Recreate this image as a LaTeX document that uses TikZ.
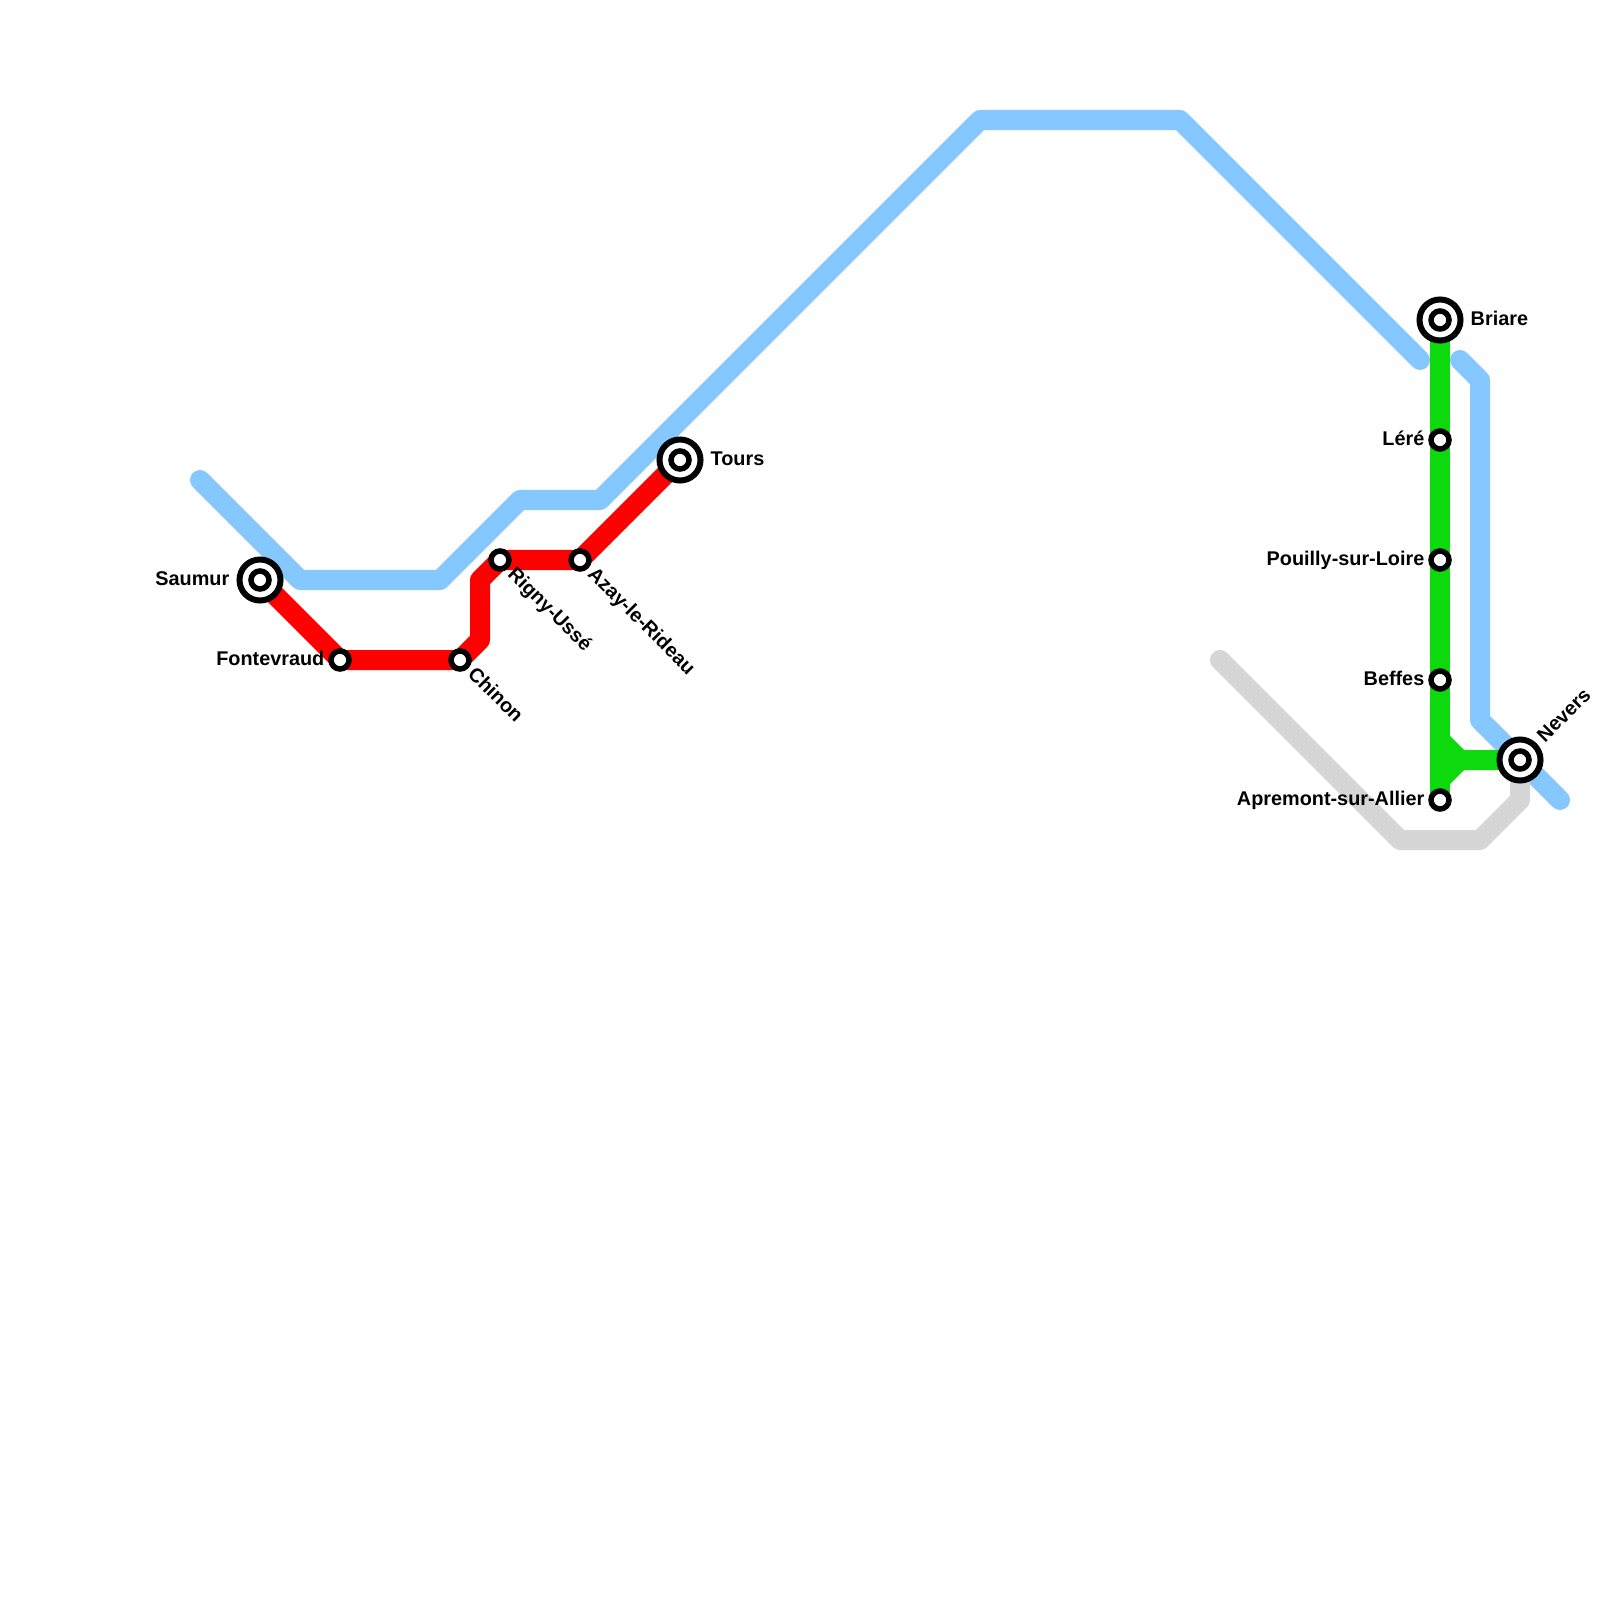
\documentclass[tikz,border=0pt]{standalone}
\usepackage{fontspec}
\setmainfont{Liberation Sans}
\usetikzlibrary{backgrounds}

\begin{document}
\begin{tikzpicture}[x=0.01cm, y=-0.01cm,
    track/.style={line width=0.2cm, line cap=round, line join=round},
    bluetrack/.style={track, draw={rgb,255:red,133;green,199;blue,255}},
    redtrack/.style={track, draw={rgb,255:red,255;green,0;blue,0}},
    greentrack/.style={track, draw={rgb,255:red,12;green,218;blue,12}},
    greytrack/.style={track, draw={rgb,255:red,214;green,214;blue,214}},
    stop/.style={circle, draw=black, fill=white, line width=0.055cm, inner sep=0pt, minimum size=0.18cm},
    hub/.style={circle, draw=black, fill=white, line width=0.06cm, inner sep=0pt, minimum size=0.41cm},
    stoplabel/.style={font=\fontsize{5.64pt}{6.5pt}\selectfont\bfseries, inner sep=0pt, text=black}
]
\useasboundingbox (0,0) rectangle (1600,1600);

% Stations on the red line
\node[hub] (saumur) at (260,580) {};
\node[stop] (saumurin) at (saumur) {};
\node[stop] (fontevraud) at (340,660) {};
\node[stop] (chinon) at (460,660) {};
\node[stop] (rigny) at (500,560) {};
\node[stop] (azay) at (580,560) {};
\node[hub] (tours) at (680,460) {};
\node[stop] (toursin) at (tours) {};

% Stations on the green line
\node[hub] (briare) at (1440,320) {};
\node[stop] (briarein) at (briare) {};
\node[stop] (lere) at (1440,440) {};
\node[stop] (pouilly) at (1440,560) {};
\node[stop] (beffes) at (1440,680) {};
\node[stop] (apremont) at (1440,800) {};
\node[hub] (nevers) at (1520,760) {};
\node[stop] (neversin) at (nevers) {};

% Bends
\coordinate (b1) at (200,480);
\coordinate (b2) at (300,580);
\coordinate (b3) at (440,580);
\coordinate (b4) at (520,500);
\coordinate (b5) at (600,500);
\coordinate (b6) at (980,120);
\coordinate (b7) at (1180,120);
\coordinate (b8) at (1420,360);
\coordinate (b9) at (1460,360);
\coordinate (b10) at (1480,380);
\coordinate (b11) at (1480,720);
\coordinate (b12) at (1560,800);
\coordinate (g1) at (1220,660);
\coordinate (g2) at (1400,840);
\coordinate (g3) at (1480,840);
\coordinate (g4) at (1520,800);
\coordinate (r1) at (480,640);
\coordinate (r2) at (480,580);
\coordinate (v1) at (1440,740);
\coordinate (v2) at (1460,760);
\coordinate (v3) at (1440,780);

% Lines
\begin{scope}[on background layer]
\draw[bluetrack] (b1) -- (b2) -- (b3) -- (b4) -- (b5) -- (b6) -- (b7) -- (b8);
\draw[bluetrack] (b9) -- (b10) -- (b11) -- (b12);
\draw[greytrack] (g1) -- (g2) -- (g3) -- (g4) -- (nevers.center);
\draw[redtrack] (saumur.center) -- (fontevraud.center) -- (chinon.center) -- (r1) -- (r2) -- (rigny.center) -- (azay.center) -- (tours.center);
\draw[greentrack, line cap=butt] (briare.center) -- (apremont.center);
\draw[greentrack] (v1) -- (v2) -- (nevers.center);
\draw[greentrack] (v3) -- (v2);
\end{scope}

% Labels
\node[stoplabel, anchor=mid east] (lsaumur) at (230,576) {Saumur};
\node[stoplabel, anchor=mid east] (lfontevraud) at (325,656) {Fontevraud};
\node[stoplabel, anchor=mid west, rotate=-45] (lchinon) at (473,668) {Chinon};
\node[stoplabel, anchor=mid west, rotate=-45] (lrigny) at (513,568) {Rigny-Ussé};
\node[stoplabel, anchor=mid west, rotate=-45] (lazay) at (593,568) {Azay-le-Rideau};
\node[stoplabel, anchor=mid west] (ltours) at (710,456) {Tours};
\node[stoplabel, anchor=mid west] (lbriare) at (1470,316) {Briare};
\node[stoplabel, anchor=mid east] (llere) at (1425,436) {Léré};
\node[stoplabel, anchor=mid east] (lpouilly) at (1425,556) {Pouilly-sur-Loire};
\node[stoplabel, anchor=mid east] (lbeffes) at (1425,676) {Beffes};
\node[stoplabel, anchor=mid east] (lapremont) at (1425,796) {Apremont-sur-Allier};
\node[stoplabel, anchor=mid west, rotate=45] (lnevers) at (1538,737) {Nevers};

\end{tikzpicture}
\end{document}
